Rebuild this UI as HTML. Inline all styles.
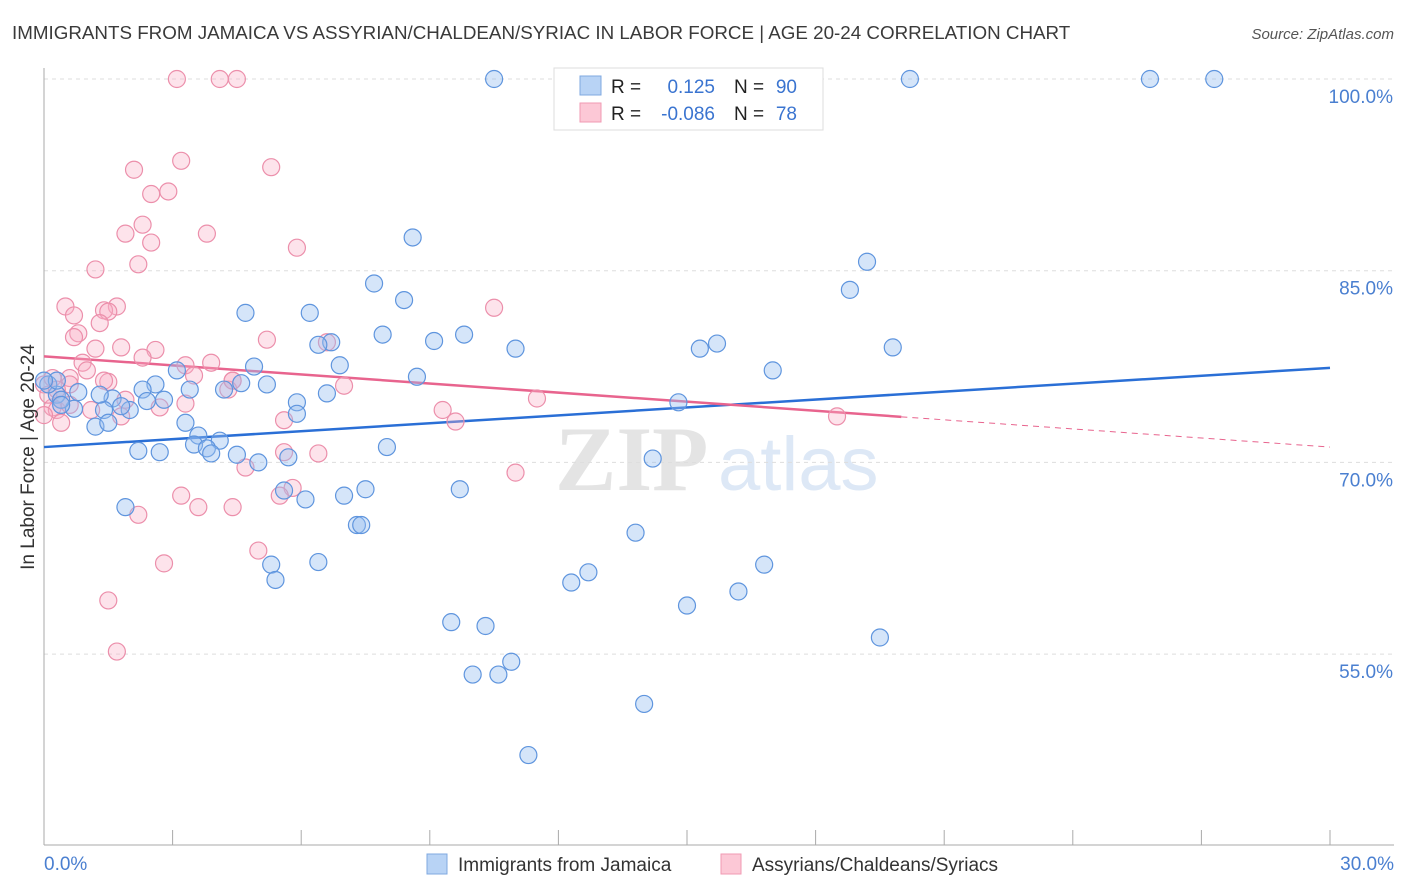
<!DOCTYPE html>
<html><head><meta charset="utf-8"><style>
body{margin:0;background:#fff;font-family:"Liberation Sans",sans-serif;}
</style></head><body>
<svg id="chart" width="1406" height="892" xmlns="http://www.w3.org/2000/svg" style="display:block">
<text x="12" y="39" font-size="18.8" fill="#3a3a3a">IMMIGRANTS FROM JAMAICA VS ASSYRIAN/CHALDEAN/SYRIAC IN LABOR FORCE | AGE 20-24 CORRELATION CHART</text>
<text x="1394" y="39" font-size="15" fill="#555" font-style="italic" text-anchor="end">Source: ZipAtlas.com</text>
<g>
<text x="555" y="490" font-size="92" fill="#e4e4e4" font-family="Liberation Serif,serif" font-weight="bold">ZIP</text>
<text x="718" y="490" font-size="76" fill="#dde8f6">atlas</text>
</g>
<g id="grid"></g>
<g id="axes"></g>
<g id="lines"></g>
<g id="pts"></g>
<text transform="translate(34,457) rotate(-90)" font-size="19" fill="#333" text-anchor="middle">In Labor Force | Age 20-24</text>
<text x="44" y="870" font-size="19" fill="#4a7fd0">0.0%</text>
<text x="1394" y="870" font-size="19" fill="#4a7fd0" text-anchor="end">30.0%</text>
<g>
<rect x="554" y="68" width="269" height="62" fill="#fff" stroke="#ddd"/>
<rect x="580" y="76" width="21" height="19" fill="#b8d3f5" stroke="#7fa8e0"/>
<rect x="580" y="103" width="21" height="19" fill="#fcc8d6" stroke="#f09ab3"/>
<text x="611" y="93" font-size="19" fill="#222">R =</text>
<text x="715" y="93" font-size="19" fill="#3a74d0" text-anchor="end">0.125</text>
<text x="734" y="93" font-size="19" fill="#222">N =</text>
<text x="797" y="93" font-size="19" fill="#3a74d0" text-anchor="end">90</text>
<text x="611" y="120" font-size="19" fill="#222">R =</text>
<text x="715" y="120" font-size="19" fill="#3a74d0" text-anchor="end">-0.086</text>
<text x="734" y="120" font-size="19" fill="#222">N =</text>
<text x="797" y="120" font-size="19" fill="#3a74d0" text-anchor="end">78</text>
</g>
<g>
<rect x="427" y="854" width="20" height="20" fill="#b8d3f5" stroke="#7fa8e0"/>
<text x="458" y="871" font-size="19" fill="#333">Immigrants from Jamaica</text>
<rect x="721" y="854" width="20" height="20" fill="#fcc8d6" stroke="#f09ab3"/>
<text x="752" y="871" font-size="19" fill="#333">Assyrians/Chaldeans/Syriacs</text>
</g>
</svg>
<script>
const yTicks=[100,85,70,55];
const yTickLabels=["100.0%","85.0%","70.0%","55.0%"];
const xTicks=[0,3,6,9,12,15,18,21,24,27,30];
const blueX=[10.5,20.2,25.8,27.3,8.6,19.2,7.7,18.8,8.4,4.7,6.2,9.8,7.9,9.1,6.7,11.0,15.3,15.7,19.8,6.9,4.9,17.0,3.1,8.7,4.6,2.6,2.3,3.4,4.2,5.2,6.6,5.9,2.8,2.4,1.6,14.8,5.9,2.0,1.4,0.7,0.3,0.1,0.3,0.4,1.2,1.5,3.3,3.6,3.5,4.1,3.8,3.9,4.5,8.0,2.2,2.7,5.0,5.7,14.2,9.7,7.5,7.0,5.6,6.1,7.3,7.4,1.9,13.8,5.3,5.4,6.4,12.7,12.3,16.8,16.2,15.0,9.5,10.3,19.5,10.9,10.0,10.6,14.0,11.3,0.0,0.4,0.8,1.3,6.4,1.8];
const blueY=[100,100,100,100,87.6,85.7,84.0,83.5,82.7,81.7,81.7,80.0,80.0,79.5,79.4,78.9,78.9,79.3,79.0,77.6,77.5,77.2,77.2,76.7,76.2,76.1,75.7,75.7,75.7,76.1,75.4,74.7,74.9,74.8,75.0,74.7,73.8,74.1,74.1,74.2,75.3,76.1,76.4,74.9,72.8,73.1,73.1,72.1,71.4,71.7,71.1,70.7,70.6,71.2,70.9,70.8,70.0,70.4,70.3,67.9,67.9,67.4,67.8,67.1,65.1,65.1,66.5,64.5,62.0,60.8,62.2,61.4,60.6,62.0,59.9,58.8,57.5,57.2,56.3,54.4,53.4,53.4,51.1,47.1,76.4,74.5,75.5,75.3,79.2,74.4];
const pinkX=[3.1,4.1,4.5,3.2,5.3,2.1,2.5,2.9,2.3,1.9,3.8,2.5,5.9,2.2,1.2,0.5,0.7,1.7,1.4,1.5,1.3,10.5,0.8,0.7,5.2,6.6,1.2,1.8,2.6,2.3,3.9,3.3,0.9,1.0,3.5,4.4,1.5,1.4,0.6,7.0,4.3,4.4,11.5,1.9,0.4,0.2,0.3,0.6,1.1,1.8,2.7,3.3,9.3,9.6,18.5,5.6,0.4,5.6,6.4,11.0,4.7,5.8,5.5,3.2,3.6,4.4,2.2,5.0,2.8,1.5,1.7,0.0,0.1,0.0,0.2,0.6,0.3];
const pinkY=[100,100,100,93.6,93.1,92.9,91.0,91.2,88.6,87.9,87.9,87.2,86.8,85.5,85.1,82.2,81.5,82.2,81.9,81.8,80.9,82.1,80.1,79.8,79.6,79.4,78.9,79.0,78.8,78.2,77.8,77.6,77.8,77.2,76.8,76.4,76.3,76.4,76.6,76.0,75.7,76.4,75.0,74.9,74.9,74.3,74.1,74.5,74.1,73.6,74.3,74.6,74.1,73.2,73.6,73.3,73.1,70.8,70.7,69.2,69.6,68.0,67.4,67.4,66.5,66.5,65.9,63.1,62.1,59.2,55.2,76.1,75.3,73.7,76.6,76.1,75.7];
const blueTrend=[71.2,77.4];
const pinkTrend=[78.3,71.2];
const pinkSolidEnd=20.0;

const NS="http://www.w3.org/2000/svg";
const X=v=>44+v/30*1286;
const Y=v=>79+(100-v)*12.78;
function mk(tag,attrs,parent){const e=document.createElementNS(NS,tag);for(const k in attrs)e.setAttribute(k,attrs[k]);document.getElementById(parent).appendChild(e);return e;}
yTicks.forEach((t,i)=>{
  const g=mk('line',{x1:44,x2:1394,y1:Y(t),y2:Y(t),stroke:'#ddd','stroke-dasharray':'4,4'},'grid');
  
  
  const tx=mk('text',{x:1393,y:Y(t)+24,'font-size':19,fill:'#4a7fd0','text-anchor':'end'},'grid');
  tx.textContent=yTickLabels[i];
  
  
});
const ya=mk('line',{x1:44,x2:44,y1:68,y2:845,stroke:'#aaa'},'axes');


const xa=mk('line',{x1:44,x2:1394,y1:845,y2:845,stroke:'#aaa'},'axes');


xTicks.forEach(t=>{
  const l=mk('line',{x1:X(t),x2:X(t),y1:830,y2:845,stroke:'#aaa'},'axes');
  
  
});
function pts(xs,ys,fill,stroke,name){
  xs.forEach((x,i)=>{
    const c=mk('circle',{cx:X(x),cy:Y(ys[i]),r:8.5,fill:fill,stroke:stroke,'stroke-width':1.2},'pts');
    
    
  });
}
pts(pinkX,pinkY,'rgba(248,176,198,0.35)','#ec8fab','point-assyrian');
pts(blueX,blueY,'rgba(150,190,240,0.4)','#5f95de','point-jamaica');
const bl=mk('line',{x1:X(0),y1:Y(blueTrend[0]),x2:X(30),y2:Y(blueTrend[1]),stroke:'#2a6fd6','stroke-width':2.5},'lines');


const pm=pinkTrend[0]+(pinkTrend[1]-pinkTrend[0])*pinkSolidEnd/30;
const pl=mk('line',{x1:X(0),y1:Y(pinkTrend[0]),x2:X(pinkSolidEnd),y2:Y(pm),stroke:'#e8648e','stroke-width':2.5},'lines');


const pd=mk('line',{x1:X(pinkSolidEnd),y1:Y(pm),x2:X(30),y2:Y(pinkTrend[1]),stroke:'#e8648e','stroke-width':1,'stroke-dasharray':'6,5'},'lines');


</script>
</body></html>
